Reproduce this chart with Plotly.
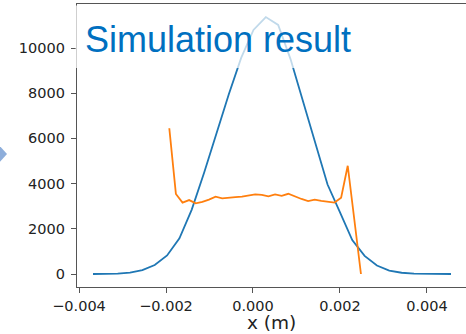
import plotly.graph_objects as go

# ---- data ----
blue_x = [-0.003678, -0.003394, -0.003110, -0.002827, -0.002543, -0.002259, -0.001975,
          -0.001691, -0.001408, -0.001124, -0.000840, -0.000556, -0.000272, 0.000011,
          0.000295, 0.000579, 0.000863, 0.001147, 0.001430, 0.001714, 0.001998,
          0.002282, 0.002566, 0.002849, 0.003133, 0.003417, 0.003701, 0.003985,
          0.004268, 0.004552]
blue_y = [0, 5, 20, 60, 170, 400, 820, 1580, 2850, 4480, 6220, 7950, 9560, 10800,
          11370, 11020, 9510, 7670, 5820, 3960, 2740, 1500, 800, 375, 150, 55, 15, 5, 2, 0]

orange_x = [-0.001924, -0.001772, -0.001620, -0.001468, -0.001316, -0.001164, -0.001012,
            -0.000860, -0.000708, -0.000556, -0.000405, -0.000253, -0.000101, 0.000051,
            0.000203, 0.000355, 0.000507, 0.000659, 0.000811, 0.000963, 0.001115,
            0.001267, 0.001419, 0.001570, 0.001722, 0.001874, 0.002026, 0.002178,
            0.002330, 0.002482]
orange_y = [6450, 3540, 3160, 3270, 3130, 3190, 3290, 3420, 3350, 3390, 3400, 3420,
            3470, 3520, 3500, 3440, 3520, 3460, 3550, 3430, 3320, 3230, 3290, 3240,
            3190, 3160, 3380, 4790, 2400, 0]

x_tickvals = [-0.004, -0.002, 0.0, 0.002, 0.004]
x_ticktext = ["\u22120.004", "\u22120.002", "0.000", "0.002", "0.004"]
y_tickvals = [0, 2000, 4000, 6000, 8000, 10000]
y_ticktext = [str(v) for v in y_tickvals]

title_text = "Simulation result"
x_label = "x (m)"

# ---- figure ----
W, H = 466, 334
L, T, B, R = 77, 4, 47, 0

fig = go.Figure()
fig.add_trace(go.Scatter(x=blue_x, y=blue_y, mode="lines",
                         line=dict(color="#1f77b4", width=1.8), showlegend=False))
fig.add_trace(go.Scatter(x=orange_x, y=orange_y, mode="lines",
                         line=dict(color="#ff7f0e", width=1.8), showlegend=False))

axis_font = dict(family="DejaVu Sans", size=14.5, color="#222222")

fig.update_layout(
    width=W, height=H,
    margin=dict(l=L, r=R, t=T, b=B, pad=0, autoexpand=False),
    paper_bgcolor="white", plot_bgcolor="white",
    showlegend=False,
    xaxis=dict(range=[-0.004046, 0.004897], tickvals=x_tickvals, ticktext=x_ticktext,
               automargin=False,
               showgrid=False, zeroline=False, showline=True, linecolor="#555555",
               linewidth=1.3, mirror=True, ticks="outside", ticklen=5, tickwidth=1.2,
               tickcolor="#555555", tickfont=axis_font, ticklabelstandoff=0),
    yaxis=dict(range=[-575, 11947], tickvals=y_tickvals, ticktext=y_ticktext,
               automargin=False,
               showgrid=False, zeroline=False, showline=True, linecolor="#555555",
               linewidth=1.3, mirror=False, ticks="outside", ticklen=5, tickwidth=1.2,
               tickcolor="#555555", tickfont=axis_font, ticklabelstandoff=3),
)

def px_x(p):
    return (p - L) / (W - L - R)

def px_y(p):
    return (H - B - p) / (H - B - T)

# x-axis label
fig.add_annotation(xref="paper", yref="paper", x=px_x(271.5), y=px_y(322),
                   xanchor="center", yanchor="middle", showarrow=False,
                   text=x_label, borderpad=0,
                   font=dict(family="DejaVu Sans", size=18.5, color="#222222"))

# semi-transparent white text box over the top of the plot
fig.add_shape(type="rect", xref="paper", yref="paper",
              x0=px_x(75.5), x1=px_x(362), y0=px_y(68), y1=px_y(5.5),
              fillcolor="rgba(255,255,255,0.72)", line=dict(width=0), layer="above")

fig.add_annotation(xref="paper", yref="paper", x=px_x(83), y=px_y(39),
                   xanchor="left", yanchor="middle", showarrow=False,
                   text=title_text,
                   font=dict(family="Liberation Sans", size=36, color="#0070C0"))

# slide chevron fragment at the left edge
fig.add_shape(type="path", xref="paper", yref="paper",
              path="M {} {} L {} {} L {} {} Z".format(px_x(-2), px_y(144), px_x(7), px_y(154),
                                                       px_x(-2), px_y(164)),
              fillcolor="#8EAEDB", line=dict(width=0), layer="above")

fig.write_html("out.html", config={"displayModeBar": False},
               post_script="document.body.style.margin='0';document.body.style.overflow='hidden';")
